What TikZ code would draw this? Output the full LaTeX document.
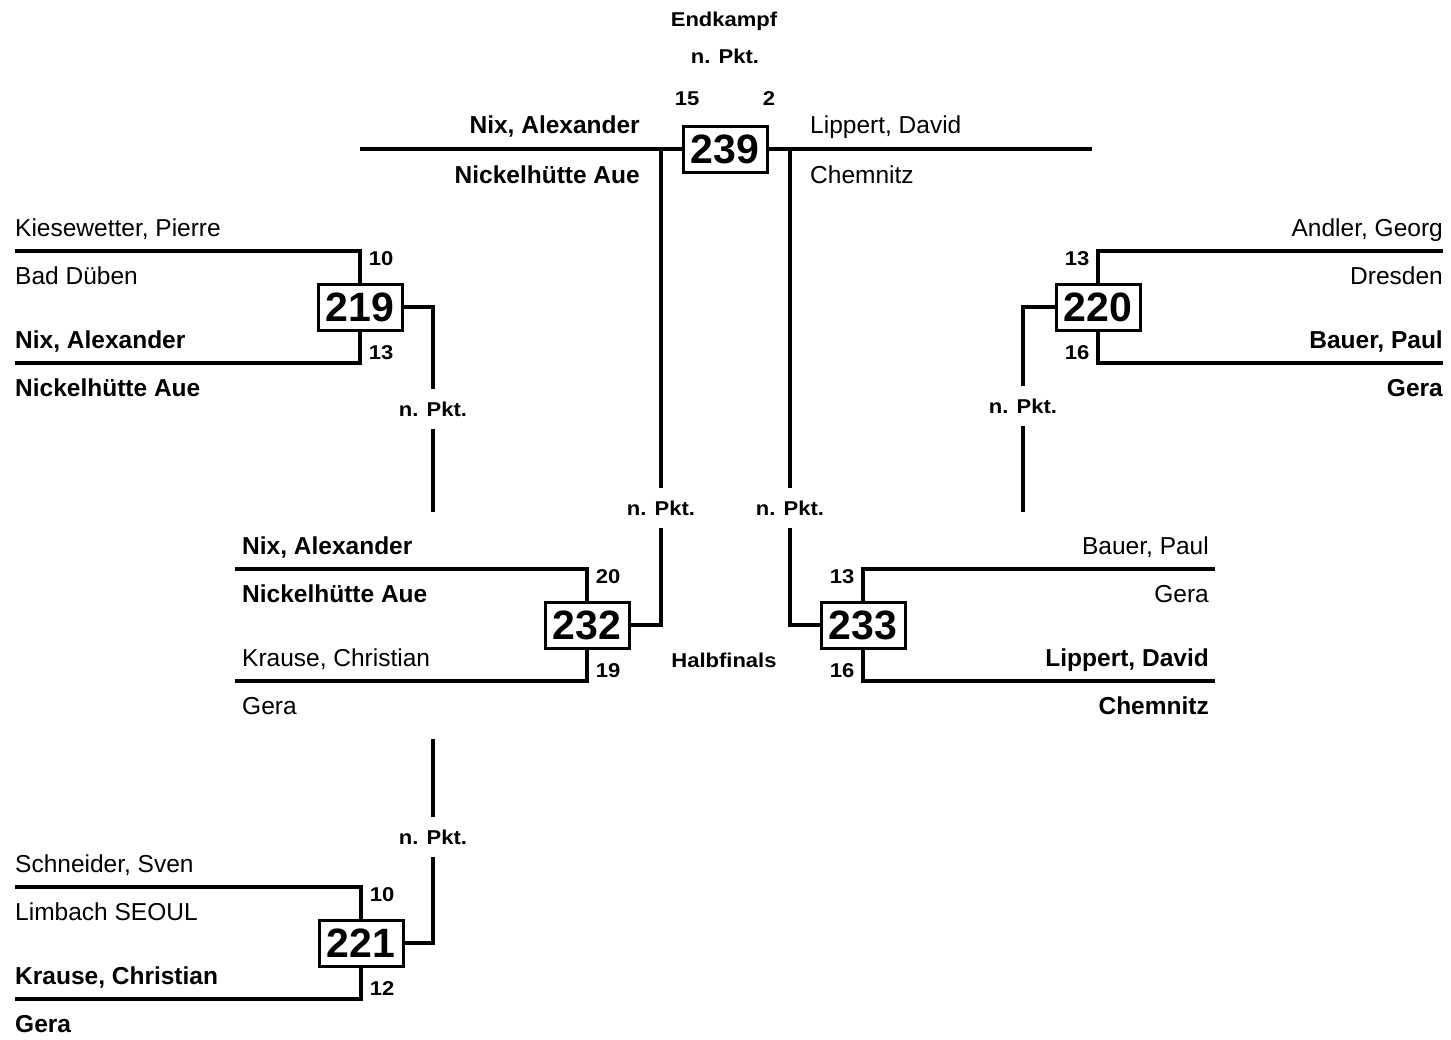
\documentclass[tikz,border=0pt]{standalone}
\usepackage{fontspec}
\setmainfont{Liberation Sans}
\newfontfamily\widefont[FakeStretch=1.1]{Liberation Sans}

\begin{document}
\begin{tikzpicture}[x=1pt, y=-1pt,
    wire/.style={line width=4pt},
    matchbox/.style={draw, line width=3pt, fill=white, minimum width=84pt,
        minimum height=46pt, inner sep=0pt, font=\fontsize{41}{41}\selectfont\bfseries},
    player/.style={inner sep=0pt, font=\fontsize{24.5}{24.5}\selectfont},
    winner/.style={inner sep=0pt, font=\fontsize{24.5}{24.5}\selectfont\bfseries},
    score/.style={inner sep=0pt, font=\widefont\fontsize{20}{20}\selectfont\bfseries},
    ptlabel/.style={score, minimum height=40pt}]

    \useasboundingbox (0,0) rectangle (1451,1039);

    % --- Endkampf ---
    \node[score, anchor=base] (final) at (724,26) {Endkampf};
    \node[score, anchor=base] (np239) at (725,63) {n. Pkt.};
    \node[score, anchor=base] (sa239) at (687,105) {15};
    \node[score, anchor=base] (sb239) at (769,105) {2};

    \coordinate (fl) at (360,149);
    \coordinate (fr) at (1092,149);
    \node[matchbox] (b239) at (725,149) {239};
    \draw[wire] (fl) -- (b239.west);
    \draw[wire] (b239.east) -- (fr);

    \node[winner, anchor=base east] (pfa) at (640,133) {Nix, Alexander};
    \node[winner, anchor=base east] (cfa) at (640,183) {Nickelhütte Aue};
    \node[player, anchor=base west] (pfb) at (810,133) {Lippert, David};
    \node[player, anchor=base west] (cfb) at (810,183) {Chemnitz};

    % --- Halbfinals ---
    \node[score, anchor=base] (semi) at (724,667) {Halbfinals};

    % --- Paarungen: Kasten, Klammer und Punkte ---
    % \n = Kampf, \bx/\by = Mitte, \lx = Linienende, \sa/\sb = Punkte, \d = Seite
    \foreach \n/\bx/\by/\lx/\sa/\sb/\d in {
        219/360/307/15/10/13/1,
        221/361/943/15/10/12/1,
        232/587/625/235/20/19/1,
        220/1098/307/1443/13/16/-1,
        233/863/625/1215/13/16/-1
    } {
        \node[matchbox] (b\n) at (\bx,\by) {\n};
        \coordinate (t\n) at (\lx,\by-56);
        \coordinate (u\n) at (\lx,\by+56);
        \draw[wire] (b\n.north) |- (t\n);
        \draw[wire] (b\n.south) |- (u\n);
        \node[score, anchor=base] (sa\n) at (\bx+\d*21,\by-42) {\sa};
        \node[score, anchor=base] (sb\n) at (\bx+\d*21,\by+52) {\sb};
    }

    % --- Namen und Vereine ---
    \foreach \id/\tx/\ty/\anc/\sty/\who/\club in {
        219a/15/251/west/player/{Kiesewetter, Pierre}/{Bad Düben},
        219b/15/363/west/winner/{Nix, Alexander}/{Nickelhütte Aue},
        221a/15/887/west/player/{Schneider, Sven}/{Limbach SEOUL},
        221b/15/999/west/winner/{Krause, Christian}/Gera,
        232a/242/569/west/winner/{Nix, Alexander}/{Nickelhütte Aue},
        232b/242/681/west/player/{Krause, Christian}/Gera,
        220a/1443/251/east/player/{Andler, Georg}/Dresden,
        220b/1443/363/east/winner/{Bauer, Paul}/Gera,
        233a/1209/569/east/player/{Bauer, Paul}/Gera,
        233b/1209/681/east/winner/{Lippert, David}/Chemnitz
    } {
        \node[\sty, anchor=base \anc] (p\id) at (\tx,\ty-15) {\who};
        \node[\sty, anchor=base \anc] (c\id) at (\tx,\ty+33) {\club};
    }

    % --- Verbindungen mit "n. Pkt." ---
    \node[ptlabel] (np219) at (433,409) {n. Pkt.};
    \node[ptlabel] (np220) at (1023,406) {n. Pkt.};
    \node[ptlabel] (np221) at (433,837) {n. Pkt.};
    \node[ptlabel] (np232) at (661,508) {n. Pkt.};
    \node[ptlabel] (np233) at (790,508) {n. Pkt.};

    \coordinate (e219) at (433,512);
    \coordinate (e220) at (1023,512);
    \coordinate (e221) at (433,739);

    \draw[wire] (b219.east) -| (np219.north);
    \draw[wire] (np219.south) -- (e219);
    \draw[wire] (b220.west) -| (np220.north);
    \draw[wire] (np220.south) -- (e220);
    \draw[wire] (b221.east) -| (np221.south);
    \draw[wire] (np221.north) -- (e221);
    \draw[wire] (b232.east) -| (np232.south);
    \draw[wire] (np232.north) -- (np232.north |- fl);
    \draw[wire] (b233.west) -| (np233.south);
    \draw[wire] (np233.north) -- (np233.north |- fl);

\end{tikzpicture}
\end{document}
